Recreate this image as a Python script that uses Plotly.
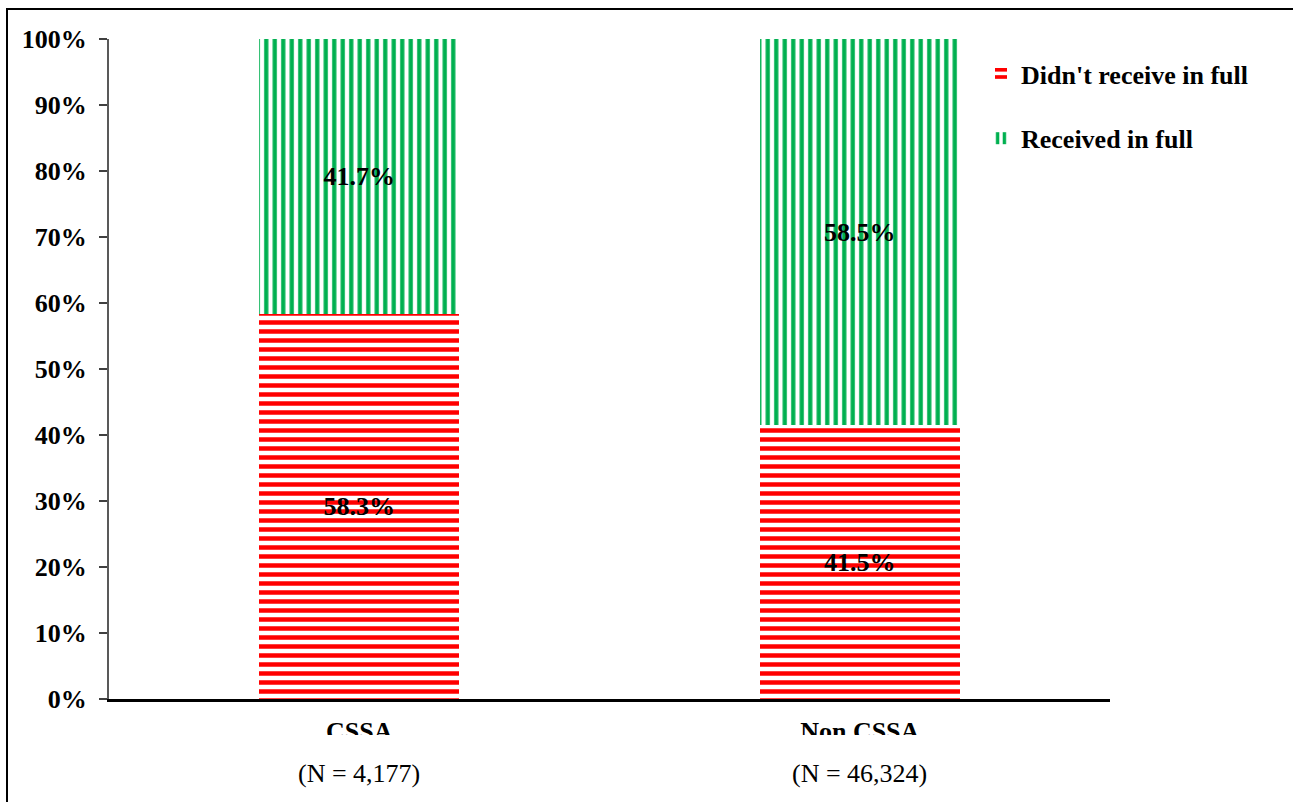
import plotly.graph_objects as go

# Share of recipients by CSSA status (percent of each group)
categories = ["CSSA", "Non CSSA"]
group_sizes = ["(N = 4,177)", "(N = 46,324)"]
not_in_full = [58.3, 41.5]
in_full = [41.7, 58.5]
y_ticks = [0, 10, 20, 30, 40, 50, 60, 70, 80, 90, 100]
y_tick_labels = [f"{v}%" for v in y_ticks]

FONT = "Liberation Serif"
RED = "#FF0000"
GREEN = "#00B050"

W, H = 1293, 802
L, R, T, B = 109, 183, 39, 103
plot_w = W - L - R
plot_h = H - T - B


def px_x(px):
    return (px - L) / plot_w


def px_y(py):
    return (H - B - py) / plot_h


fig = go.Figure()

fig.add_trace(go.Bar(
    x=categories, y=not_in_full, name="Didn't receive in full",
    legendgroup="a", width=0.4,
    marker=dict(color="white", line=dict(width=0),
                pattern=dict(shape="-", fgcolor=RED, bgcolor="white",
                             fgopacity=1, size=9, solidity=0.5)),
    texttemplate="%{y:.1f}%", textposition="inside",
    insidetextanchor="middle", textangle=0, constraintext="none",
    textfont=dict(family=FONT, size=26, color="black", weight="bold"),
))
fig.add_trace(go.Bar(
    x=categories, y=in_full, name="Received in full",
    legendgroup="b", width=0.4,
    marker=dict(color="white", line=dict(width=0),
                pattern=dict(shape="|", fgcolor=GREEN, bgcolor="white",
                             fgopacity=1, size=8.5, solidity=0.5)),
    texttemplate="%{y:.1f}%", textposition="inside",
    insidetextanchor="middle", textangle=0, constraintext="none",
    textfont=dict(family=FONT, size=26, color="black", weight="bold"),
))

annotations = []
for cat, n in zip(categories, group_sizes):
    annotations.append(dict(
        x=cat, xref="x", y=px_y(773), yref="paper", text=n,
        showarrow=False, xanchor="center", yanchor="middle",
        font=dict(family=FONT, size=26, color="black"),
    ))

shapes = [
    # strip that trims the lower part of the category names
    dict(type="rect", xref="paper", yref="paper", layer="above",
         x0=0, x1=1, y0=px_y(752), y1=px_y(735),
         fillcolor="white", line=dict(width=0)),
    # outer frame
    dict(type="rect", xref="paper", yref="paper", layer="above",
         x0=px_x(7), x1=px_x(1400), y0=px_y(900), y1=px_y(9),
         fillcolor="rgba(0,0,0,0)", line=dict(color="black", width=2)),
]

fig.update_layout(
    width=W, height=H,
    margin=dict(l=L, r=R, t=T, b=B, pad=0),
    barmode="stack",
    paper_bgcolor="white", plot_bgcolor="white",
    font=dict(family=FONT, size=26, color="black"),
    showlegend=True,
    legend=dict(
        x=px_x(981), y=px_y(50), xanchor="left", yanchor="top",
        traceorder="grouped", tracegroupgap=28,
        font=dict(family=FONT, size=26, color="black", weight="bold"),
        bgcolor="rgba(0,0,0,0)", borderwidth=0,
    ),
    xaxis=dict(
        showline=True, linecolor="black", linewidth=3,
        ticks="", showgrid=False, zeroline=False,
        tickvals=categories, ticktext=[f"<b>{c}</b>" for c in categories],
        tickfont=dict(family=FONT, size=26, color="black"),
        ticklabelstandoff=7,
    ),
    yaxis=dict(
        range=[0, 100], tickmode="array",
        tickvals=y_ticks, ticktext=y_tick_labels,
        showline=True, linecolor="#595959", linewidth=2,
        ticks="outside", ticklen=8, tickcolor="#404040", tickwidth=2,
        showgrid=False, zeroline=False,
        tickfont=dict(family=FONT, size=26, color="black", weight="bold"),
        ticklabelstandoff=7,
    ),
    annotations=annotations,
    shapes=shapes,
)

fig.write_html("out.html")
